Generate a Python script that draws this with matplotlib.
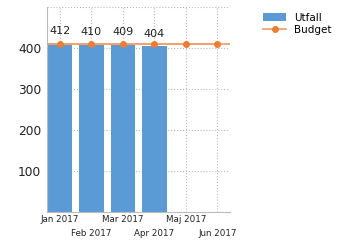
import numpy as np
import matplotlib.pyplot as plt

# Données
months = ["Jan 2017", "Feb 2017", "Mar 2017", "Apr 2017", "Maj 2017", "Jun 2017"]
utfall = [412, 410, 409, 404]
budget = [410, 410, 410, 410, 410, 410]

bar_color = "#5B9BD5"
line_color = "#ED7D31"

fig = plt.figure(figsize=(3.5, 2.5), dpi=100)
ax = fig.add_axes([0.134, 0.152, 0.523, 0.82])

x = np.arange(len(months))
bars = ax.bar(x[:len(utfall)], utfall, width=0.78, color=bar_color, label="Utfall", zorder=2)

x0, x1 = -0.41, 5.4
ax.plot([x0] + list(x) + [x1], [budget[0]] + budget + [budget[-1]],
        color="#F2A26E", lw=1.3, zorder=3)
line, = ax.plot(x, budget, color="#F2A26E", lw=1.3, marker="o", ms=4,
                mfc=line_color, mec=line_color, label="Budget", zorder=3)

for xi, v in zip(x, utfall):
    ax.text(xi, v + 18, str(v), ha="center", va="bottom", fontsize=8, color="#222222")

ax.set_xlim(x0, x1)
ax.set_ylim(0, 500)
ax.set_yticks([100, 200, 300, 400])
ax.tick_params(axis="y", labelsize=8.8, length=0, pad=4, colors="#222222")
ax.set_xticks(x)
ax.set_xticklabels(months, fontsize=6.3, color="#222222")
ax.tick_params(axis="x", length=0, pad=2)
for i, t in enumerate(ax.xaxis.get_major_ticks()):
    if i % 2 == 1:
        t.set_pad(12)

ax.grid(True, linestyle=":", color="#bbbbbb", lw=0.8, zorder=0)
ax.axhline(500, linestyle=":", color="#bbbbbb", lw=0.8, zorder=0)
for s in ["top", "right"]:
    ax.spines[s].set_visible(False)
for s in ["left", "bottom"]:
    ax.spines[s].set_color("#bbbbbb")

fig.legend([bars, line], ["Utfall", "Budget"], loc="upper left",
           bbox_to_anchor=(0.74, 0.965), frameon=False,
           fontsize=7.5, handlelength=2.2, handleheight=0.8, labelspacing=0.2,
           borderaxespad=0)

fig.savefig("out.png", dpi=100)
